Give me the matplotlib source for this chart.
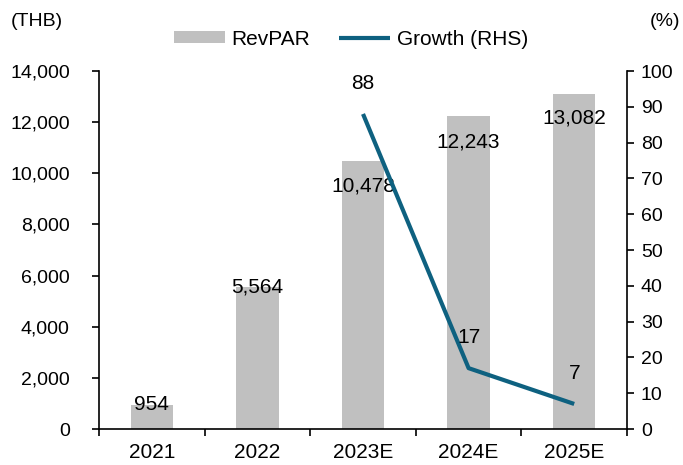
import matplotlib.pyplot as plt
import matplotlib.ticker as mticker
import numpy as np

plt.rcParams['font.family'] = ['Liberation Sans', 'DejaVu Sans']
plt.rcParams['font.size'] = 14

# ---------- data ----------
years = ['2021', '2022', '2023E', '2024E', '2025E']
revpar = [954, 5564, 10478, 12243, 13082]
growth_years = ['2023E', '2024E', '2025E']
growth = [88, 17, 7]
# label offsets (points) relative to bar top
bar_label_dy = [0, 0, -18, -19, -17]

bar_color = '#C0C0C0'
line_color = '#0E6180'

fig = plt.figure(figsize=(6.83, 4.65), dpi=100)
ax = fig.add_axes([0.145, 0.0774, 0.773, 0.7699])
ax2 = ax.twinx()

x = np.arange(len(years))
ax.bar(x, revpar, width=0.40, color=bar_color, label='RevPAR', zorder=1)

gx = [years.index(y) for y in growth_years]
ax2.plot(gx, growth, color=line_color, lw=3, solid_capstyle='butt', label='Growth (RHS)')

# bar labels
for xi, v, dy in zip(x, revpar, bar_label_dy):
    ax.annotate(f'{v:,}', xy=(xi, v), xytext=(0, dy), textcoords='offset points',
                ha='center', va='center', fontsize=15)

# line labels
for xi, v in zip(gx, growth):
    ax2.annotate(f'{v}', xy=(xi, v), xytext=(0, 22), textcoords='offset points',
                 ha='center', va='center', fontsize=15)

# axes
ax.set_xlim(-0.5, len(years) - 0.5)
ax.set_ylim(0, 14000)
ax.set_yticks(np.arange(0, 14001, 2000))
ax.yaxis.set_major_formatter(mticker.FuncFormatter(lambda v, p: f'{int(v):,}'))
ax2.set_ylim(0, 100)
ax2.set_yticks(np.arange(0, 101, 10))

ax.set_xticks(x)
ax.set_xticklabels(years, fontsize=15)
ax.set_xticks(np.arange(-0.5, len(years)), minor=True)
ax.tick_params(axis='x', which='major', length=0, pad=10)
ax.tick_params(axis='x', which='minor', length=5, width=1.2, direction='out')
ax.tick_params(axis='y', length=5, width=1.2, direction='out', pad=16)
ax2.tick_params(axis='y', length=5, width=1.2, direction='out', pad=5)

for a in (ax, ax2):
    a.spines['top'].set_visible(False)
    for s in ('left', 'right', 'bottom'):
        a.spines[s].set_linewidth(1.2)
ax.spines['right'].set_visible(False)
ax2.spines['left'].set_visible(False)
ax2.spines['bottom'].set_visible(False)

fig.text(0.016, 0.953, '(THB)', ha='left', va='center', fontsize=14)
fig.text(0.996, 0.953, '(%)', ha='right', va='center', fontsize=14)

h1, l1 = ax.get_legend_handles_labels()
h2, l2 = ax2.get_legend_handles_labels()
fig.legend(h1 + h2, l1 + l2, loc='center', bbox_to_anchor=(0.514, 0.916), ncol=2,
           frameon=False, fontsize=15, handlelength=2.45, handleheight=0.55,
           columnspacing=1.4, handletextpad=0.3)

fig.savefig('out.png', dpi=100)
